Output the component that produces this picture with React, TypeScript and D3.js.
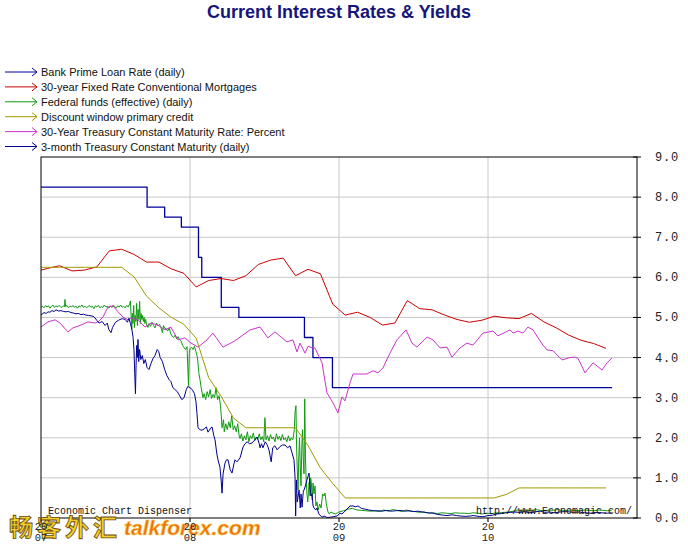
import React from "react";
import * as d3 from "d3";

const W = 688;
const H = 546;

const titleText = "Current Interest Rates & Yields";
const legendLabels = [
  "Bank Prime Loan Rate (daily)",
  "30-year Fixed Rate Conventional Mortgages",
  "Federal funds (effective) (daily)",
  "Discount window primary credit",
  "30-Year Treasury Constant Maturity Rate: Percent",
  "3-month Treasury Constant Maturity (daily)",
];
const seriesColors = ["#000099", "#cc0000", "#119911", "#a09a00", "#cc33cc", "#00008c"];

const yTicks = [0, 1, 2, 3, 4, 5, 6, 7, 8, 9];
// x values: years since 2007-01-01
const yearTicks = [0, 1, 2, 3];
const yearLabels = ["07", "08", "09", "10"];

// Bank prime: change dates (years since 2007) and new rate
const primeDates = [-0.05, 0.712, 0.83, 0.942, 1.057, 1.079, 1.21, 1.328, 1.768, 1.825, 1.956, 3.833];
const primeValues = [8.25, 7.75, 7.5, 7.25, 6.5, 6.0, 5.25, 5.0, 4.5, 4.0, 3.25, 3.25];

// Monthly series, Dec 2006 .. Oct 2010 (plotted mid-month)
const mortgageValues = [
  6.14,
  6.22, 6.29, 6.16, 6.18, 6.26, 6.66, 6.7, 6.57, 6.38, 6.38, 6.21, 6.1,
  5.76, 5.92, 5.97, 5.92, 6.04, 6.32, 6.43, 6.48, 6.04, 6.2, 6.09, 5.33,
  5.06, 5.13, 5.0, 4.81, 4.86, 5.42, 5.22, 5.19, 5.06, 4.95, 4.88, 4.93,
  5.03, 4.99, 4.97, 5.1, 4.89, 4.74, 4.56, 4.43, 4.35, 4.23,
];
const discountValues = [
  6.25,
  6.25, 6.25, 6.25, 6.25, 6.25, 6.25, 6.25, 6.01, 5.53, 5.24, 5.0, 4.83,
  4.48, 3.5, 3.04, 2.49, 2.25, 2.25, 2.25, 2.25, 2.25, 1.81, 1.25, 0.86,
  0.5, 0.5, 0.5, 0.5, 0.5, 0.5, 0.5, 0.5, 0.5, 0.5, 0.5, 0.5,
  0.5, 0.59, 0.75, 0.75, 0.75, 0.75, 0.75, 0.75, 0.75, 0.75,
];

// Daily federal funds effective: [years since 2007, rate]
const fedFunds: [number, number][] = [
  [0.0, 5.25], [0.01, 5.28], [0.02, 5.24], [0.03, 5.3], [0.04, 5.26], [0.05, 5.29], [0.06, 5.23], [0.07, 5.28],
  [0.08, 5.31], [0.09, 5.25], [0.1, 5.29], [0.11, 5.26], [0.12, 5.3], [0.13, 5.27], [0.14, 5.25], [0.15, 5.29],
  [0.158, 5.27], [0.161, 5.45], [0.165, 5.27], [0.175, 5.3], [0.185, 5.24], [0.195, 5.28], [0.205, 5.26], [0.215, 5.3],
  [0.225, 5.25], [0.235, 5.28], [0.245, 5.23], [0.255, 5.29], [0.265, 5.26], [0.275, 5.31], [0.285, 5.25], [0.295, 5.28],
  [0.305, 5.24], [0.315, 5.27], [0.325, 5.3], [0.335, 5.25], [0.345, 5.28], [0.355, 5.22], [0.365, 5.29], [0.375, 5.26],
  [0.385, 5.3], [0.395, 5.24], [0.405, 5.27], [0.415, 5.25], [0.425, 5.31], [0.435, 5.26], [0.445, 5.28], [0.455, 5.23],
  [0.465, 5.29], [0.475, 5.25], [0.485, 5.3], [0.495, 5.27], [0.505, 5.24], [0.515, 5.29], [0.525, 5.26], [0.535, 5.31],
  [0.545, 5.25], [0.555, 5.28], [0.565, 5.24], [0.575, 5.3], [0.585, 5.26], [0.595, 5.33],
  [0.6, 5.41], [0.605, 5.02], [0.609, 4.7], [0.613, 5.1], [0.617, 4.85], [0.622, 5.3], [0.627, 4.75], [0.632, 5.05],
  [0.637, 4.9], [0.642, 5.35], [0.647, 4.8], [0.652, 5.2], [0.657, 4.95], [0.662, 5.4], [0.667, 4.85], [0.672, 5.1],
  [0.677, 4.95], [0.682, 5.05], [0.687, 4.9], [0.692, 5.0], [0.697, 4.85], [0.702, 4.95], [0.71, 4.8], [0.718, 4.75],
  [0.725, 4.85], [0.735, 4.78], [0.745, 4.88], [0.755, 4.8], [0.765, 4.74], [0.775, 4.86], [0.785, 4.79], [0.795, 4.83],
  [0.805, 4.75], [0.815, 4.62], [0.822, 4.8], [0.83, 4.73], [0.84, 4.72], [0.85, 4.66], [0.86, 4.74], [0.87, 4.6],
  [0.88, 4.53], [0.89, 4.5], [0.9, 4.56], [0.91, 4.47], [0.92, 4.52], [0.93, 4.44], [0.942, 4.4], [0.95, 4.3],
  [0.96, 4.25], [0.97, 4.2], [0.98, 4.27], [0.99, 3.3], [0.995, 4.1], [1.0, 4.22], [1.01, 4.26], [1.02, 4.2],
  [1.03, 4.28], [1.04, 4.15], [1.05, 4.0], [1.06, 3.6], [1.067, 3.45], [1.075, 3.25], [1.087, 3.0], [1.095, 3.1],
  [1.105, 2.95], [1.115, 3.15], [1.125, 3.02], [1.135, 3.2], [1.145, 2.98], [1.155, 3.08], [1.165, 3.0], [1.175, 3.25],
  [1.185, 2.95], [1.195, 3.05], [1.205, 2.8], [1.215, 2.25], [1.225, 2.45], [1.23, 2.15], [1.24, 2.35], [1.25, 2.2],
  [1.26, 2.4], [1.27, 2.25], [1.28, 2.55], [1.29, 2.2], [1.3, 2.3], [1.31, 2.15], [1.32, 2.35], [1.33, 2.05],
  [1.336, 1.98], [1.345, 2.1], [1.355, 1.92], [1.365, 2.05], [1.375, 1.95], [1.385, 2.15], [1.395, 1.9], [1.405, 2.05],
  [1.415, 1.98], [1.425, 2.12], [1.435, 1.93], [1.445, 2.02], [1.455, 1.96], [1.465, 2.1], [1.475, 1.95], [1.485, 2.03],
  [1.495, 1.9], [1.503, 2.5], [1.51, 1.95], [1.52, 2.05], [1.53, 1.92], [1.54, 2.08], [1.55, 1.97], [1.56, 2.02],
  [1.57, 1.9], [1.58, 2.1], [1.59, 1.96], [1.6, 2.04], [1.61, 1.93], [1.62, 2.08], [1.63, 1.95], [1.64, 2.0],
  [1.65, 1.9], [1.66, 2.05], [1.67, 1.92], [1.68, 2.0], [1.69, 1.95], [1.7, 2.2], [1.705, 2.64], [1.711, 2.8],
  [1.715, 1.8], [1.72, 1.2], [1.725, 0.7], [1.73, 1.5], [1.735, 2.0], [1.74, 1.3], [1.745, 0.8], [1.75, 1.7],
  [1.755, 2.2], [1.76, 1.5], [1.765, 1.1], [1.77, 2.97], [1.775, 1.5], [1.78, 0.9], [1.785, 0.6], [1.79, 0.4],
  [1.795, 0.65], [1.8, 0.9], [1.805, 0.55], [1.81, 1.0], [1.815, 0.85], [1.82, 0.45], [1.826, 0.87], [1.832, 0.6],
  [1.839, 0.8], [1.845, 0.3], [1.852, 0.4], [1.86, 0.2], [1.87, 0.35], [1.88, 0.25], [1.89, 0.6], [1.9, 0.55],
  [1.906, 0.62], [1.915, 0.35], [1.926, 0.15], [1.935, 0.1], [1.945, 0.15], [1.96, 0.12], [1.975, 0.1], [1.99, 0.13],
  [2.0, 0.15], [2.03, 0.18], [2.06, 0.22], [2.09, 0.24], [2.12, 0.2], [2.15, 0.19], [2.18, 0.18], [2.21, 0.17],
  [2.24, 0.18], [2.27, 0.16], [2.3, 0.2], [2.33, 0.17], [2.36, 0.21], [2.39, 0.19], [2.42, 0.16], [2.45, 0.2],
  [2.48, 0.17], [2.51, 0.16], [2.54, 0.14], [2.57, 0.15], [2.6, 0.12], [2.63, 0.13], [2.66, 0.11], [2.69, 0.13],
  [2.72, 0.12], [2.75, 0.11], [2.78, 0.13], [2.81, 0.12], [2.84, 0.12], [2.87, 0.11], [2.9, 0.13], [2.93, 0.12],
  [2.96, 0.1], [2.99, 0.12], [3.02, 0.11], [3.05, 0.12], [3.08, 0.13], [3.11, 0.14], [3.14, 0.15], [3.17, 0.17],
  [3.2, 0.2], [3.23, 0.19], [3.26, 0.2], [3.29, 0.18], [3.32, 0.21], [3.35, 0.19], [3.38, 0.18], [3.41, 0.2],
  [3.44, 0.19], [3.47, 0.21], [3.5, 0.18], [3.53, 0.19], [3.56, 0.2], [3.59, 0.18], [3.62, 0.19], [3.65, 0.2],
  [3.68, 0.19], [3.71, 0.18], [3.74, 0.2], [3.77, 0.19], [3.8, 0.18], [3.83, 0.19],
];

// Daily 3-month Treasury: [years since 2007, rate]
const tbill3m: [number, number][] = [
  [0.0, 5.06], [0.02, 5.12], [0.035, 5.1], [0.047, 5.14], [0.06, 5.13], [0.074, 5.17], [0.088, 5.15], [0.101, 5.19],
  [0.118, 5.16], [0.134, 5.17], [0.15, 5.15], [0.168, 5.14], [0.185, 5.15], [0.201, 5.12], [0.218, 5.11], [0.235, 5.09],
  [0.25, 5.1], [0.268, 5.07], [0.285, 5.08], [0.302, 5.06], [0.32, 5.05], [0.335, 5.04], [0.35, 5.03], [0.362, 4.99],
  [0.376, 4.92], [0.39, 4.86], [0.41, 4.9], [0.43, 4.8], [0.445, 4.86], [0.455, 4.7], [0.47, 4.62], [0.48, 4.75],
  [0.5, 4.88], [0.52, 4.93], [0.545, 4.97], [0.565, 4.95], [0.58, 4.88], [0.59, 4.98], [0.6, 4.85], [0.61, 4.7],
  [0.618, 4.5], [0.624, 4.2], [0.629, 3.6], [0.634, 3.1], [0.638, 3.8], [0.642, 4.3], [0.646, 4.0], [0.651, 4.45],
  [0.656, 3.9], [0.662, 4.2], [0.67, 3.95], [0.68, 4.05], [0.69, 3.85], [0.7, 3.95], [0.712, 3.75], [0.725, 3.7],
  [0.738, 3.85], [0.752, 3.98], [0.765, 4.05], [0.78, 4.2], [0.79, 4.15], [0.8, 4.0], [0.815, 3.9], [0.83, 3.7],
  [0.845, 3.55], [0.86, 3.45], [0.872, 3.4], [0.885, 3.25], [0.9, 3.2], [0.915, 3.15], [0.93, 3.05], [0.945, 2.95],
  [0.96, 3.0], [0.975, 3.2], [0.985, 3.28], [1.0, 3.25], [1.015, 3.2], [1.03, 3.1], [1.04, 2.9], [1.047, 2.6],
  [1.054, 2.25], [1.068, 2.2], [1.081, 2.19], [1.095, 2.22], [1.11, 2.27], [1.121, 2.14], [1.14, 2.25], [1.148, 2.27],
  [1.16, 2.05], [1.168, 1.95], [1.18, 1.6], [1.188, 1.45], [1.201, 1.27], [1.21, 0.9], [1.215, 0.62], [1.222, 1.1],
  [1.235, 1.37], [1.245, 1.45], [1.255, 1.45], [1.27, 1.2], [1.282, 1.12], [1.295, 1.35], [1.302, 1.45], [1.315, 1.4],
  [1.336, 1.5], [1.356, 1.77], [1.369, 1.85], [1.383, 1.9], [1.4, 1.85], [1.416, 1.87], [1.436, 1.95], [1.45, 2.02],
  [1.465, 1.85], [1.47, 1.75], [1.48, 1.85], [1.49, 1.75], [1.505, 1.9], [1.517, 1.83], [1.53, 1.7], [1.545, 1.4],
  [1.555, 1.75], [1.57, 1.8], [1.585, 1.7], [1.604, 1.78], [1.62, 1.82], [1.638, 1.82], [1.655, 1.75], [1.671, 1.8],
  [1.685, 1.62], [1.698, 1.45], [1.705, 1.02], [1.709, 0.05], [1.714, 0.95], [1.72, 0.4], [1.725, 0.52], [1.732, 0.7],
  [1.74, 0.25], [1.745, 0.6], [1.752, 0.27], [1.76, 0.65], [1.772, 0.77], [1.785, 0.95], [1.799, 1.12], [1.805, 0.8],
  [1.812, 0.55], [1.819, 0.6], [1.826, 0.3], [1.832, 0.25], [1.845, 0.2], [1.852, 0.25], [1.865, 0.1], [1.886, 0.02],
  [1.9, 0.05], [1.92, 0.01], [1.94, 0.02], [1.96, 0.03], [1.987, 0.05], [2.007, 0.12], [2.02, 0.1], [2.04, 0.17],
  [2.06, 0.25], [2.074, 0.3], [2.094, 0.3], [2.11, 0.28], [2.128, 0.3], [2.15, 0.24], [2.175, 0.22], [2.2, 0.2],
  [2.23, 0.18], [2.26, 0.18], [2.29, 0.17], [2.32, 0.19], [2.35, 0.17], [2.38, 0.18], [2.409, 0.19], [2.44, 0.17],
  [2.47, 0.18], [2.5, 0.16], [2.53, 0.17], [2.56, 0.15], [2.6, 0.13], [2.631, 0.12], [2.66, 0.09], [2.7, 0.07],
  [2.725, 0.06], [2.76, 0.08], [2.79, 0.06], [2.812, 0.05], [2.85, 0.04], [2.88, 0.05], [2.9, 0.06], [2.94, 0.04],
  [2.966, 0.03], [3.0, 0.06], [3.03, 0.07], [3.06, 0.1], [3.09, 0.11], [3.12, 0.13], [3.15, 0.14], [3.18, 0.15],
  [3.21, 0.14], [3.25, 0.16], [3.28, 0.13], [3.31, 0.15], [3.35, 0.17], [3.38, 0.14], [3.41, 0.15], [3.45, 0.13],
  [3.48, 0.15], [3.52, 0.16], [3.55, 0.15], [3.58, 0.14], [3.61, 0.15], [3.65, 0.13], [3.69, 0.12], [3.72, 0.14],
  [3.76, 0.13], [3.8, 0.12], [3.83, 0.13],
];

// 30-year Treasury constant maturity: [years since 2007, rate]
const treasury30: [number, number][] = [
  [0.0, 4.76], [0.047, 4.89], [0.094, 4.94], [0.128, 4.86], [0.161, 4.72], [0.181, 4.64], [0.215, 4.74], [0.268, 4.81],
  [0.315, 4.89], [0.362, 4.86], [0.383, 4.89], [0.416, 5.01], [0.45, 5.26], [0.483, 5.29], [0.517, 5.14], [0.55, 5.01],
  [0.584, 4.94], [0.604, 4.99], [0.651, 4.94], [0.698, 4.76], [0.738, 4.86], [0.785, 4.81], [0.832, 4.69], [0.872, 4.76],
  [0.919, 4.44], [0.966, 4.49], [1.007, 4.36], [1.054, 4.26], [1.114, 4.44], [1.154, 4.61], [1.221, 4.26], [1.289, 4.39],
  [1.336, 4.51], [1.403, 4.69], [1.47, 4.76], [1.523, 4.49], [1.57, 4.64], [1.651, 4.39], [1.691, 4.44], [1.718, 4.14],
  [1.738, 4.36], [1.772, 4.11], [1.792, 4.28], [1.819, 4.24], [1.839, 4.24], [1.886, 3.87], [1.919, 3.12], [1.96, 2.87],
  [1.993, 2.62], [2.02, 3.02], [2.04, 2.92], [2.074, 3.37], [2.094, 3.59], [2.188, 3.59], [2.228, 3.67], [2.262, 3.62],
  [2.295, 3.74], [2.342, 4.11], [2.389, 4.44], [2.45, 4.69], [2.49, 4.36], [2.523, 4.26], [2.591, 4.51], [2.631, 4.44],
  [2.678, 4.24], [2.725, 4.26], [2.758, 4.01], [2.812, 4.24], [2.859, 4.36], [2.899, 4.31], [2.966, 4.61], [3.034, 4.66],
  [3.067, 4.54], [3.148, 4.69], [3.168, 4.61], [3.201, 4.66], [3.235, 4.61], [3.268, 4.76], [3.302, 4.69], [3.336, 4.49],
  [3.369, 4.31], [3.396, 4.19], [3.436, 4.17], [3.497, 3.94], [3.55, 4.0], [3.584, 4.01], [3.604, 3.98], [3.651, 3.62],
  [3.705, 3.87], [3.765, 3.69], [3.799, 3.87], [3.832, 3.99],
];

const plot = { left: 41, right: 637, top: 157, bottom: 518 };

export default function App() {
  const x = d3.scaleLinear().domain([0, 4]).range([plot.left, plot.right]);
  const y = d3.scaleLinear().domain([0, 9]).range([plot.bottom, plot.top]);

  const line = d3
    .line<[number, number]>()
    .x((d) => x(d[0]))
    .y((d) => y(d[1]));
  const stepLine = d3
    .line<[number, number]>()
    .x((d) => x(d[0]))
    .y((d) => y(d[1]))
    .curve(d3.curveStepAfter);

  const monthly = (vals: number[]): [number, number][] =>
    vals.map((v, i) => [(i - 1 + 0.5) / 12, v]);

  const prime: [number, number][] = primeDates.map((d, i) => [d, primeValues[i]]);

  const series: { d: string; color: string; w: number }[] = [
    { d: stepLine(prime) || "", color: seriesColors[0], w: 1.3 },
    { d: line(monthly(mortgageValues)) || "", color: seriesColors[1], w: 1 },
    { d: line(fedFunds) || "", color: seriesColors[2], w: 1 },
    { d: line(monthly(discountValues)) || "", color: seriesColors[3], w: 1 },
    { d: line(treasury30) || "", color: seriesColors[4], w: 1 },
    { d: line(tbill3m) || "", color: seriesColors[5], w: 1 },
  ];

  const mono = "'Liberation Mono', 'DejaVu Sans Mono', monospace";
  const sans = "'Liberation Sans', Arial, sans-serif";

  return (
    <svg
      width={W}
      height={H}
      style={{ position: "absolute", left: 0, top: 0, background: "#fff" }}
    >
      <rect x={0} y={0} width={W} height={H} fill="#fff" />
      <text
        x={339}
        y={18}
        textAnchor="middle"
        fontFamily={sans}
        fontWeight="bold"
        fontSize={18}
        fill="#16167a"
      >
        {titleText}
      </text>

      {legendLabels.map((lab, i) => {
        const ly = 72 + i * 14.9;
        return (
          <g key={lab}>
            <line x1={5} x2={37} y1={ly} y2={ly} stroke={seriesColors[i]} strokeWidth={1} />
            <polyline
              points={`${32},${ly - 4} ${37},${ly} ${32},${ly + 4}`}
              fill="none"
              stroke={seriesColors[i]}
              strokeWidth={1}
            />
            <text x={41} y={ly + 4} fontFamily={sans} fontSize={11} fill="#111">
              {lab}
            </text>
          </g>
        );
      })}

      <clipPath id="plotclip">
        <rect x={plot.left} y={plot.top} width={plot.right - plot.left} height={plot.bottom - plot.top} />
      </clipPath>

      {/* gridlines */}
      {yTicks.slice(1, -1).map((t) => (
        <line key={"gy" + t} x1={plot.left} x2={plot.right} y1={y(t)} y2={y(t)} stroke="#c8c8c8" strokeWidth={1} />
      ))}
      {yearTicks.slice(1).map((t) => (
        <line key={"gx" + t} x1={x(t)} x2={x(t)} y1={plot.top} y2={plot.bottom + 4} stroke="#c8c8c8" strokeWidth={1} />
      ))}

      <g clipPath="url(#plotclip)">
        {series.map((s, i) => (
          <path key={i} d={s.d} fill="none" stroke={s.color} strokeWidth={s.w} strokeLinejoin="round" />
        ))}
      </g>

      {/* frame */}
      <rect
        x={plot.left}
        y={plot.top}
        width={plot.right - plot.left}
        height={plot.bottom - plot.top}
        fill="none"
        stroke="#000"
        strokeWidth={1}
      />

      {/* right axis ticks */}
      {yTicks.map((t) => (
        <g key={"yt" + t}>
          <line x1={plot.right - 4} x2={plot.right + 4} y1={y(t)} y2={y(t)} stroke="#000" />
          <text
            x={655}
            y={y(t) + 4}
            fontFamily={mono}
            fontSize={12}
            letterSpacing={0.8}
            fill="#222"
          >
            {t.toFixed(1)}
          </text>
        </g>
      ))}

      {/* watermark (drawn beneath the axis labels) */}
      <text
        x={9}
        y={536}
        fontFamily="'Noto Sans CJK SC', sans-serif"
        fontWeight="bold"
        fontSize={24}
        fill="#f2cf2a"
        stroke="#6b4a10"
        strokeWidth={0.8}
        letterSpacing={4}
      >
        畅客外汇
      </text>
      <text
        x={124}
        y={535}
        fontFamily={sans}
        fontWeight="bold"
        fontStyle="italic"
        fontSize={21}
        fill="#ee6e12"
        stroke="#f7d04a"
        strokeWidth={0.6}
      >
        talkforex.com
      </text>

      {/* bottom axis labels */}
      {yearTicks.map((t, i) => (
        <g key={"xt" + t}>
          <line x1={x(t)} x2={x(t)} y1={plot.bottom} y2={plot.bottom + 4} stroke="#000" />
          <text x={x(t)} y={530} textAnchor="middle" fontFamily={mono} fontSize={10.5} fill="#222">
            20
          </text>
          <text x={x(t)} y={541} textAnchor="middle" fontFamily={mono} fontSize={10.5} fill="#222">
            {yearLabels[i]}
          </text>
        </g>
      ))}

      <text x={48} y={514} fontFamily={mono} fontSize={10} fill="#111">
        Economic Chart Dispenser
      </text>
      <text x={632} y={514} textAnchor="end" fontFamily={mono} fontSize={10} fill="#111">
        http://www.Economagic.com/
      </text>
    </svg>
  );
}
